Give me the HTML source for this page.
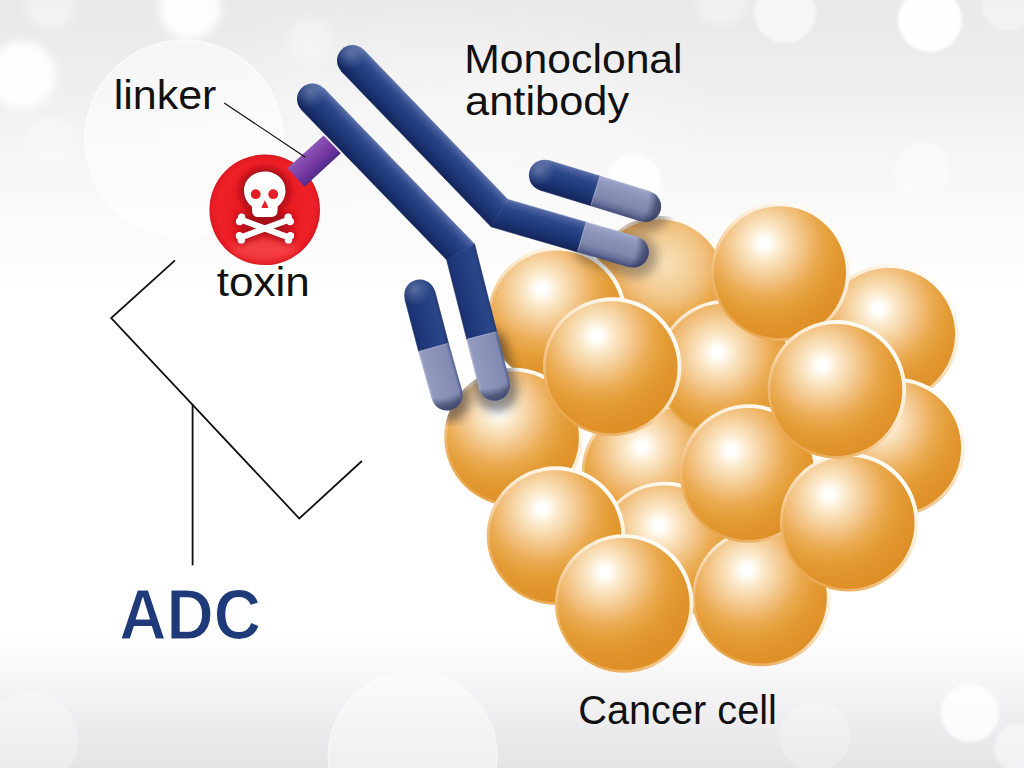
<!DOCTYPE html>
<html><head><meta charset="utf-8"><title>ADC</title>
<style>
html,body{margin:0;padding:0;background:#fff;}
body{width:1024px;height:768px;overflow:hidden;font-family:"Liberation Sans",sans-serif;}
svg{display:block}
text{font-family:"Liberation Sans",sans-serif;}
</style></head><body>
<svg width="1024" height="768" viewBox="0 0 1024 768">
<defs>
<linearGradient id="bg" gradientUnits="userSpaceOnUse" x1="0" y1="0" x2="0" y2="768">
<stop offset="0" stop-color="#e9e9e9"/><stop offset="0.052" stop-color="#ebebeb"/><stop offset="0.13" stop-color="#f0f0f0"/><stop offset="0.195" stop-color="#f5f5f5"/><stop offset="0.26" stop-color="#f9f9f9"/><stop offset="0.325" stop-color="#fcfcfc"/><stop offset="0.39" stop-color="#ffffff"/>
<stop offset="0.825" stop-color="#ffffff"/><stop offset="0.875" stop-color="#f8f8f9"/><stop offset="0.935" stop-color="#eeeef0"/><stop offset="1" stop-color="#e4e4e7"/>
</linearGradient>
<filter id="b5" x="-50%" y="-50%" width="200%" height="200%"><feGaussianBlur stdDeviation="5"/></filter>
<filter id="b4" x="-50%" y="-50%" width="200%" height="200%"><feGaussianBlur stdDeviation="4"/></filter>
<filter id="b8" x="-50%" y="-50%" width="200%" height="200%"><feGaussianBlur stdDeviation="8"/></filter>
<filter id="b2" x="-50%" y="-50%" width="200%" height="200%"><feGaussianBlur stdDeviation="1.5"/></filter>
<radialGradient id="sph" cx="0.39" cy="0.295" r="0.74">
<stop offset="0" stop-color="#ffffff"/><stop offset="0.045" stop-color="#ffffff"/><stop offset="0.09" stop-color="#fff8ec"/><stop offset="0.17" stop-color="#fbe9cb"/><stop offset="0.28" stop-color="#f7d7a8"/><stop offset="0.40" stop-color="#f2c283"/><stop offset="0.55" stop-color="#ebab52"/><stop offset="0.70" stop-color="#e49c36"/><stop offset="0.85" stop-color="#e0942b"/><stop offset="1" stop-color="#de8f26"/>
</radialGradient>

<radialGradient id="tox" cx="0.5" cy="0.5" r="0.5">
<stop offset="0" stop-color="#e61c24"/><stop offset="0.6" stop-color="#ea1c24"/><stop offset="0.85" stop-color="#ee2028"/><stop offset="0.95" stop-color="#e81c24"/><stop offset="1" stop-color="#d4181f"/>
</radialGradient>
<linearGradient id="lnk" gradientUnits="userSpaceOnUse" x1="305" y1="151.8" x2="322.5" y2="170.2">
<stop offset="0" stop-color="#8f58b8"/><stop offset="0.3" stop-color="#8246ac"/><stop offset="0.6" stop-color="#7438a0"/><stop offset="0.85" stop-color="#5f3094"/><stop offset="1" stop-color="#502a84"/>
</linearGradient>
<linearGradient id="rim" x1="0.8" y1="0.1" x2="0.2" y2="0.9">
<stop offset="0" stop-color="#fffdf8"/><stop offset="0.40" stop-color="#fce8cb"/><stop offset="0.72" stop-color="#f2c285"/><stop offset="1" stop-color="#e9a84f"/>
</linearGradient>
<radialGradient id="cl" cx="0.5" cy="0.5" r="0.5"><stop offset="0" stop-color="#fff" stop-opacity="0.45"/><stop offset="0.5" stop-color="#fff" stop-opacity="0.25"/><stop offset="1" stop-color="#fff" stop-opacity="0"/></radialGradient>
<clipPath id="toxclip"><circle cx="264.7" cy="209.8" r="55.3"/></clipPath>
<filter id="b3" x="-50%" y="-50%" width="200%" height="200%"><feGaussianBlur stdDeviation="3"/></filter>
<clipPath id="sphclip"><circle cx="660.0" cy="285.0" r="69.0"/><circle cx="889.7" cy="333.4" r="69.0"/><circle cx="895.7" cy="447.0" r="69.0"/><circle cx="651.0" cy="472.0" r="69.0"/><circle cx="726.0" cy="369.0" r="69.0"/><circle cx="665.0" cy="551.0" r="69.0"/><circle cx="557.4" cy="315.8" r="69.0"/><circle cx="513.5" cy="437.0" r="69.0"/><circle cx="612.2" cy="366.6" r="69.0"/><circle cx="780.6" cy="271.7" r="69.0"/><circle cx="556.0" cy="535.6" r="69.0"/><circle cx="761.5" cy="597.0" r="69.0"/><circle cx="749.0" cy="473.5" r="69.0"/><circle cx="849.2" cy="522.2" r="69.0"/><circle cx="836.9" cy="389.4" r="69.0"/><circle cx="624.2" cy="603.5" r="69.0"/></clipPath>
<linearGradient id="g1" gradientUnits="userSpaceOnUse" x1="548.93" y1="160.48" x2="539.87" y2="190.12"><stop offset="0" stop-color="#5d72aa"/><stop offset="0.1" stop-color="#465c9c"/><stop offset="0.28" stop-color="#2b4789"/><stop offset="0.55" stop-color="#203b7d"/><stop offset="0.8" stop-color="#192f6b"/><stop offset="1" stop-color="#13245a"/></linearGradient>
<linearGradient id="g2" gradientUnits="userSpaceOnUse" x1="599.97" y1="176.09" x2="590.83" y2="205.71"><stop offset="0" stop-color="#a4accd"/><stop offset="0.1" stop-color="#959dc2"/><stop offset="0.3" stop-color="#8b93b8"/><stop offset="0.66" stop-color="#7f87ad"/><stop offset="0.86" stop-color="#636c96"/><stop offset="1" stop-color="#444e7c"/></linearGradient>
<radialGradient id="c3" gradientUnits="userSpaceOnUse" cx="538.87" cy="169.55" r="16.28"><stop offset="0" stop-color="#fff" stop-opacity="0.26"/><stop offset="0.5" stop-color="#fff" stop-opacity="0.12"/><stop offset="1" stop-color="#fff" stop-opacity="0"/></radialGradient>
<radialGradient id="c4" gradientUnits="userSpaceOnUse" cx="615.97" cy="197.29" r="46.50"><stop offset="0.69" stop-color="#1c2248" stop-opacity="0"/><stop offset="0.742" stop-color="#1c2248" stop-opacity="0.10"/><stop offset="0.806" stop-color="#1c2248" stop-opacity="0.30"/><stop offset="0.871" stop-color="#1c2248" stop-opacity="0.50"/><stop offset="0.935" stop-color="#1c2248" stop-opacity="0.60"/><stop offset="1" stop-color="#1c2248" stop-opacity="0.66"/></radialGradient>
<linearGradient id="g5" gradientUnits="userSpaceOnUse" x1="363.66" y1="49.85" x2="341.34" y2="71.35"><stop offset="0" stop-color="#5d72aa"/><stop offset="0.1" stop-color="#465c9c"/><stop offset="0.28" stop-color="#2b4789"/><stop offset="0.55" stop-color="#203b7d"/><stop offset="0.8" stop-color="#192f6b"/><stop offset="1" stop-color="#13245a"/></linearGradient>
<linearGradient id="g6" gradientUnits="userSpaceOnUse" x1="503.72" y1="198.21" x2="495.08" y2="227.99"><stop offset="0" stop-color="#5d72aa"/><stop offset="0.1" stop-color="#465c9c"/><stop offset="0.28" stop-color="#2b4789"/><stop offset="0.55" stop-color="#203b7d"/><stop offset="0.8" stop-color="#192f6b"/><stop offset="1" stop-color="#13245a"/></linearGradient>
<linearGradient id="g7" gradientUnits="userSpaceOnUse" x1="586.22" y1="222.16" x2="577.57" y2="251.93"><stop offset="0" stop-color="#a4accd"/><stop offset="0.1" stop-color="#959dc2"/><stop offset="0.3" stop-color="#8b93b8"/><stop offset="0.66" stop-color="#7f87ad"/><stop offset="0.86" stop-color="#636c96"/><stop offset="1" stop-color="#444e7c"/></linearGradient>
<radialGradient id="c8" gradientUnits="userSpaceOnUse" cx="350.45" cy="52.89" r="16.28"><stop offset="0" stop-color="#fff" stop-opacity="0.26"/><stop offset="0.5" stop-color="#fff" stop-opacity="0.12"/><stop offset="1" stop-color="#fff" stop-opacity="0"/></radialGradient>
<radialGradient id="c9" gradientUnits="userSpaceOnUse" cx="603.63" cy="243.36" r="46.50"><stop offset="0.69" stop-color="#1c2248" stop-opacity="0"/><stop offset="0.742" stop-color="#1c2248" stop-opacity="0.10"/><stop offset="0.806" stop-color="#1c2248" stop-opacity="0.30"/><stop offset="0.871" stop-color="#1c2248" stop-opacity="0.50"/><stop offset="0.935" stop-color="#1c2248" stop-opacity="0.60"/><stop offset="1" stop-color="#1c2248" stop-opacity="0.66"/></radialGradient>
<linearGradient id="g10" gradientUnits="userSpaceOnUse" x1="404.81" y1="298.94" x2="434.79" y2="291.06"><stop offset="0" stop-color="#192d6a"/><stop offset="0.1" stop-color="#1d3474"/><stop offset="0.5" stop-color="#233e81"/><stop offset="0.85" stop-color="#2a4688"/><stop offset="0.95" stop-color="#27417f"/><stop offset="1" stop-color="#1d3370"/></linearGradient>
<linearGradient id="g11" gradientUnits="userSpaceOnUse" x1="418.68" y1="351.71" x2="448.52" y2="343.29"><stop offset="0" stop-color="#a3abcc"/><stop offset="0.08" stop-color="#9199be"/><stop offset="0.5" stop-color="#8a92b8"/><stop offset="0.9" stop-color="#828ab1"/><stop offset="1" stop-color="#4f5f98"/></linearGradient>
<radialGradient id="c12" gradientUnits="userSpaceOnUse" cx="414.23" cy="289.29" r="16.28"><stop offset="0" stop-color="#fff" stop-opacity="0.26"/><stop offset="0.5" stop-color="#fff" stop-opacity="0.12"/><stop offset="1" stop-color="#fff" stop-opacity="0"/></radialGradient>
<radialGradient id="c13" gradientUnits="userSpaceOnUse" cx="438.86" cy="365.09" r="46.50"><stop offset="0.69" stop-color="#1c2248" stop-opacity="0"/><stop offset="0.742" stop-color="#1c2248" stop-opacity="0.10"/><stop offset="0.806" stop-color="#1c2248" stop-opacity="0.30"/><stop offset="0.871" stop-color="#1c2248" stop-opacity="0.50"/><stop offset="0.935" stop-color="#1c2248" stop-opacity="0.60"/><stop offset="1" stop-color="#1c2248" stop-opacity="0.66"/></radialGradient>
<linearGradient id="g14" gradientUnits="userSpaceOnUse" x1="323.64" y1="88.12" x2="301.36" y2="109.68"><stop offset="0" stop-color="#5d72aa"/><stop offset="0.1" stop-color="#465c9c"/><stop offset="0.28" stop-color="#2b4789"/><stop offset="0.55" stop-color="#203b7d"/><stop offset="0.8" stop-color="#192f6b"/><stop offset="1" stop-color="#13245a"/></linearGradient>
<linearGradient id="g15" gradientUnits="userSpaceOnUse" x1="445.58" y1="255.71" x2="475.62" y2="248.09"><stop offset="0" stop-color="#192d6a"/><stop offset="0.1" stop-color="#1d3474"/><stop offset="0.5" stop-color="#233e81"/><stop offset="0.85" stop-color="#2a4688"/><stop offset="0.95" stop-color="#27417f"/><stop offset="1" stop-color="#1d3370"/></linearGradient>
<linearGradient id="g16" gradientUnits="userSpaceOnUse" x1="466.79" y1="339.36" x2="496.83" y2="331.74"><stop offset="0" stop-color="#a3abcc"/><stop offset="0.08" stop-color="#9199be"/><stop offset="0.5" stop-color="#8a92b8"/><stop offset="0.9" stop-color="#828ab1"/><stop offset="1" stop-color="#4f5f98"/></linearGradient>
<radialGradient id="c17" gradientUnits="userSpaceOnUse" cx="310.43" cy="91.19" r="16.28"><stop offset="0" stop-color="#fff" stop-opacity="0.26"/><stop offset="0.5" stop-color="#fff" stop-opacity="0.12"/><stop offset="1" stop-color="#fff" stop-opacity="0"/></radialGradient>
<radialGradient id="c18" gradientUnits="userSpaceOnUse" cx="486.88" cy="355.55" r="46.50"><stop offset="0.69" stop-color="#1c2248" stop-opacity="0"/><stop offset="0.742" stop-color="#1c2248" stop-opacity="0.10"/><stop offset="0.806" stop-color="#1c2248" stop-opacity="0.30"/><stop offset="0.871" stop-color="#1c2248" stop-opacity="0.50"/><stop offset="0.935" stop-color="#1c2248" stop-opacity="0.60"/><stop offset="1" stop-color="#1c2248" stop-opacity="0.66"/></radialGradient>
<radialGradient id="sphC" cx="0.545" cy="0.333" r="0.74"><stop offset="0" stop-color="#f6dfb6"/><stop offset="0.12" stop-color="#f5d9aa"/><stop offset="0.28" stop-color="#f3cd94"/><stop offset="0.40" stop-color="#f0c07e"/><stop offset="0.55" stop-color="#ebab52"/><stop offset="0.70" stop-color="#e49c36"/><stop offset="0.85" stop-color="#e0942b"/><stop offset="1" stop-color="#de8f26"/></radialGradient>
<radialGradient id="sphE" cx="0.419" cy="0.308" r="0.74"><stop offset="0" stop-color="#ffffff"/><stop offset="0.045" stop-color="#ffffff"/><stop offset="0.09" stop-color="#fff8ec"/><stop offset="0.17" stop-color="#fbe9cb"/><stop offset="0.28" stop-color="#f7d7a8"/><stop offset="0.40" stop-color="#f2c283"/><stop offset="0.55" stop-color="#ebab52"/><stop offset="0.70" stop-color="#e49c36"/><stop offset="0.85" stop-color="#e0942b"/><stop offset="1" stop-color="#de8f26"/></radialGradient>
<radialGradient id="sphJ" cx="0.436" cy="0.305" r="0.74"><stop offset="0" stop-color="#ffffff"/><stop offset="0.045" stop-color="#ffffff"/><stop offset="0.09" stop-color="#fff8ec"/><stop offset="0.17" stop-color="#fbe9cb"/><stop offset="0.28" stop-color="#f7d7a8"/><stop offset="0.40" stop-color="#f2c283"/><stop offset="0.55" stop-color="#ebab52"/><stop offset="0.70" stop-color="#e49c36"/><stop offset="0.85" stop-color="#e0942b"/><stop offset="1" stop-color="#de8f26"/></radialGradient>
<radialGradient id="sphF" cx="0.440" cy="0.370" r="0.74"><stop offset="0" stop-color="#ffffff"/><stop offset="0.045" stop-color="#ffffff"/><stop offset="0.09" stop-color="#fff8ec"/><stop offset="0.17" stop-color="#fbe9cb"/><stop offset="0.28" stop-color="#f7d7a8"/><stop offset="0.40" stop-color="#f2c283"/><stop offset="0.55" stop-color="#ebab52"/><stop offset="0.70" stop-color="#e49c36"/><stop offset="0.85" stop-color="#e0942b"/><stop offset="1" stop-color="#de8f26"/></radialGradient>
<radialGradient id="sphM" cx="0.460" cy="0.303" r="0.74"><stop offset="0" stop-color="#ffffff"/><stop offset="0.045" stop-color="#ffffff"/><stop offset="0.09" stop-color="#fff8ec"/><stop offset="0.17" stop-color="#fbe9cb"/><stop offset="0.28" stop-color="#f7d7a8"/><stop offset="0.40" stop-color="#f2c283"/><stop offset="0.55" stop-color="#ebab52"/><stop offset="0.70" stop-color="#e49c36"/><stop offset="0.85" stop-color="#e0942b"/><stop offset="1" stop-color="#de8f26"/></radialGradient>
<radialGradient id="sphA" cx="0.387" cy="0.292" r="0.74"><stop offset="0" stop-color="#ffffff"/><stop offset="0.045" stop-color="#ffffff"/><stop offset="0.09" stop-color="#fff8ec"/><stop offset="0.17" stop-color="#fbe9cb"/><stop offset="0.28" stop-color="#f7d7a8"/><stop offset="0.40" stop-color="#f2c283"/><stop offset="0.55" stop-color="#ebab52"/><stop offset="0.70" stop-color="#e49c36"/><stop offset="0.85" stop-color="#e0942b"/><stop offset="1" stop-color="#de8f26"/></radialGradient>
<radialGradient id="sphB" cx="0.386" cy="0.263" r="0.74"><stop offset="0" stop-color="#ffffff"/><stop offset="0.045" stop-color="#ffffff"/><stop offset="0.09" stop-color="#fff8ec"/><stop offset="0.17" stop-color="#fbe9cb"/><stop offset="0.28" stop-color="#f7d7a8"/><stop offset="0.40" stop-color="#f2c283"/><stop offset="0.55" stop-color="#ebab52"/><stop offset="0.70" stop-color="#e49c36"/><stop offset="0.85" stop-color="#e0942b"/><stop offset="1" stop-color="#de8f26"/></radialGradient>
<radialGradient id="sphD" cx="0.382" cy="0.279" r="0.74"><stop offset="0" stop-color="#ffffff"/><stop offset="0.045" stop-color="#ffffff"/><stop offset="0.09" stop-color="#fff8ec"/><stop offset="0.17" stop-color="#fbe9cb"/><stop offset="0.28" stop-color="#f7d7a8"/><stop offset="0.40" stop-color="#f2c283"/><stop offset="0.55" stop-color="#ebab52"/><stop offset="0.70" stop-color="#e49c36"/><stop offset="0.85" stop-color="#e0942b"/><stop offset="1" stop-color="#de8f26"/></radialGradient>
<radialGradient id="sphL" cx="0.398" cy="0.289" r="0.74"><stop offset="0" stop-color="#ffffff"/><stop offset="0.045" stop-color="#ffffff"/><stop offset="0.09" stop-color="#fff8ec"/><stop offset="0.17" stop-color="#fbe9cb"/><stop offset="0.28" stop-color="#f7d7a8"/><stop offset="0.40" stop-color="#f2c283"/><stop offset="0.55" stop-color="#ebab52"/><stop offset="0.70" stop-color="#e49c36"/><stop offset="0.85" stop-color="#e0942b"/><stop offset="1" stop-color="#de8f26"/></radialGradient>
<radialGradient id="sphO" cx="0.394" cy="0.290" r="0.74"><stop offset="0" stop-color="#ffffff"/><stop offset="0.045" stop-color="#ffffff"/><stop offset="0.09" stop-color="#fff8ec"/><stop offset="0.17" stop-color="#fbe9cb"/><stop offset="0.28" stop-color="#f7d7a8"/><stop offset="0.40" stop-color="#f2c283"/><stop offset="0.55" stop-color="#ebab52"/><stop offset="0.70" stop-color="#e49c36"/><stop offset="0.85" stop-color="#e0942b"/><stop offset="1" stop-color="#de8f26"/></radialGradient>
<radialGradient id="sphK" cx="0.371" cy="0.322" r="0.74"><stop offset="0" stop-color="#ffffff"/><stop offset="0.045" stop-color="#ffffff"/><stop offset="0.09" stop-color="#fff8ec"/><stop offset="0.17" stop-color="#fbe9cb"/><stop offset="0.28" stop-color="#f7d7a8"/><stop offset="0.40" stop-color="#f2c283"/><stop offset="0.55" stop-color="#ebab52"/><stop offset="0.70" stop-color="#e49c36"/><stop offset="0.85" stop-color="#e0942b"/><stop offset="1" stop-color="#de8f26"/></radialGradient>
<radialGradient id="sphP" cx="0.356" cy="0.284" r="0.74"><stop offset="0" stop-color="#ffffff"/><stop offset="0.045" stop-color="#ffffff"/><stop offset="0.09" stop-color="#fff8ec"/><stop offset="0.17" stop-color="#fbe9cb"/><stop offset="0.28" stop-color="#f7d7a8"/><stop offset="0.40" stop-color="#f2c283"/><stop offset="0.55" stop-color="#ebab52"/><stop offset="0.70" stop-color="#e49c36"/><stop offset="0.85" stop-color="#e0942b"/><stop offset="1" stop-color="#de8f26"/></radialGradient>
<radialGradient id="sphG" cx="0.393" cy="0.311" r="0.74"><stop offset="0" stop-color="#ffffff"/><stop offset="0.045" stop-color="#ffffff"/><stop offset="0.09" stop-color="#fff8ec"/><stop offset="0.17" stop-color="#fbe9cb"/><stop offset="0.28" stop-color="#f7d7a8"/><stop offset="0.40" stop-color="#f2c283"/><stop offset="0.55" stop-color="#ebab52"/><stop offset="0.70" stop-color="#e49c36"/><stop offset="0.85" stop-color="#e0942b"/><stop offset="1" stop-color="#de8f26"/></radialGradient>
<radialGradient id="sphN" cx="0.356" cy="0.258" r="0.74"><stop offset="0" stop-color="#ffffff"/><stop offset="0.045" stop-color="#ffffff"/><stop offset="0.09" stop-color="#fff8ec"/><stop offset="0.17" stop-color="#fbe9cb"/><stop offset="0.28" stop-color="#f7d7a8"/><stop offset="0.40" stop-color="#f2c283"/><stop offset="0.55" stop-color="#ebab52"/><stop offset="0.70" stop-color="#e49c36"/><stop offset="0.85" stop-color="#e0942b"/><stop offset="1" stop-color="#de8f26"/></radialGradient>
</defs>
<rect width="1024" height="768" fill="url(#bg)"/>
<!-- bokeh -->
<ellipse cx="430" cy="120" rx="300" ry="130" fill="url(#cl)"/>
<g id="bokeh">
<circle cx="184" cy="139" r="99.500" fill="#ffffff" opacity="0.55"/>
<circle cx="184" cy="139" r="99" fill="none" stroke="#ffffff" stroke-width="1.2" opacity="0.7"/>
<circle cx="22" cy="75" r="34" fill="#ffffff" opacity="0.95" filter="url(#b4)"/>
<circle cx="190" cy="8" r="31" fill="#ffffff" opacity="0.95" filter="url(#b4)"/>
<circle cx="50" cy="5" r="25" fill="#ffffff" opacity="0.4" filter="url(#b4)"/>
<circle cx="310" cy="40" r="22" fill="#ffffff" opacity="0.35" filter="url(#b4)"/>
<circle cx="50" cy="142" r="25" fill="#ffffff" opacity="0.35" filter="url(#b4)"/>
<circle cx="930" cy="20" r="32" fill="#ffffff" opacity="0.97" filter="url(#b2)"/>
<circle cx="785" cy="12" r="31" fill="#ffffff" opacity="0.6" filter="url(#b2)"/>
<circle cx="722" cy="0" r="26" fill="#ffffff" opacity="0.35" filter="url(#b4)"/>
<circle cx="1008" cy="5" r="26" fill="#ffffff" opacity="0.4" filter="url(#b2)"/>
<circle cx="634" cy="181" r="27" fill="#ffffff" opacity="0.9" filter="url(#b2)"/>
<circle cx="922" cy="170" r="28" fill="#ffffff" opacity="0.4" filter="url(#b2)"/>
<circle cx="412.6" cy="756" r="85" fill="#ffffff" opacity="0.42"/><circle cx="412.6" cy="756" r="84.5" fill="none" stroke="#fff" stroke-width="1" opacity="0.5"/>
<circle cx="970" cy="713" r="29" fill="#ffffff" opacity="0.85" filter="url(#b2)"/>
<circle cx="1018" cy="748" r="24" fill="#ffffff" opacity="0.5" filter="url(#b2)"/>
<circle cx="815" cy="736" r="35" fill="#ffffff" opacity="0.25"/>
<circle cx="30" cy="740" r="48" fill="#ffffff" opacity="0.3"/>
</g>
<!-- spheres -->
<g transform="translate(660.0,285.0)"><circle r="69.3" fill="url(#rim)"/><circle cx="-0.6" cy="0.6" r="66.0" fill="url(#sphC)"/></g>
<g transform="translate(889.7,333.4)"><circle r="69.3" fill="url(#rim)"/><circle cx="-0.6" cy="0.6" r="66.0" fill="url(#sphE)"/></g>
<g transform="translate(895.7,447.0)"><circle r="69.3" fill="url(#rim)"/><circle cx="-0.6" cy="0.6" r="66.0" fill="url(#sph)"/></g>
<g transform="translate(651.0,472.0)"><circle r="69.3" fill="url(#rim)"/><circle cx="-0.6" cy="0.6" r="66.0" fill="url(#sphJ)"/></g>
<g transform="translate(726.0,369.0)"><circle r="69.3" fill="url(#rim)"/><circle cx="-0.6" cy="0.6" r="66.0" fill="url(#sphF)"/></g>
<g transform="translate(665.0,551.0)"><circle r="69.3" fill="url(#rim)"/><circle cx="-0.6" cy="0.6" r="66.0" fill="url(#sphM)"/></g>
<g transform="translate(557.4,315.8)"><circle r="69.3" fill="url(#rim)"/><circle cx="-0.6" cy="0.6" r="66.0" fill="url(#sphA)"/></g>
<g transform="translate(513.5,437.0)"><circle r="69.3" fill="url(#rim)"/><circle cx="-0.6" cy="0.6" r="66.0" fill="url(#sph)"/></g>
<g transform="translate(612.2,366.6)"><circle r="69.3" fill="url(#rim)"/><circle cx="-0.6" cy="0.6" r="66.0" fill="url(#sphB)"/></g>
<g transform="translate(780.6,271.7)"><circle r="69.3" fill="url(#rim)"/><circle cx="-0.6" cy="0.6" r="66.0" fill="url(#sphD)"/></g>
<g transform="translate(556.0,535.6)"><circle r="69.3" fill="url(#rim)"/><circle cx="-0.6" cy="0.6" r="66.0" fill="url(#sphL)"/></g>
<g transform="translate(761.5,597.0)"><circle r="69.3" fill="url(#rim)"/><circle cx="-0.6" cy="0.6" r="66.0" fill="url(#sphO)"/></g>
<g transform="translate(749.0,473.5)"><circle r="69.3" fill="url(#rim)"/><circle cx="-0.6" cy="0.6" r="66.0" fill="url(#sphK)"/></g>
<g transform="translate(849.2,522.2)"><circle r="69.3" fill="url(#rim)"/><circle cx="-0.6" cy="0.6" r="66.0" fill="url(#sphP)"/></g>
<g transform="translate(836.9,389.4)"><circle r="69.3" fill="url(#rim)"/><circle cx="-0.6" cy="0.6" r="66.0" fill="url(#sphG)"/></g>
<g transform="translate(624.2,603.5)"><circle r="69.3" fill="url(#rim)"/><circle cx="-0.6" cy="0.6" r="66.0" fill="url(#sphN)"/></g>

<!-- shadows of antibody tips -->
<g clip-path="url(#sphclip)"><g filter="url(#b5)" opacity="0.5" stroke="#262633" stroke-width="43" stroke-linecap="round"><line x1="485.9" y1="349.0" x2="496.5" y2="390.6"/><line x1="438.0" y1="361.0" x2="449.0" y2="400.0"/></g><g filter="url(#b5)" opacity="0.34" stroke="#262633" stroke-width="43" stroke-linecap="round"><line x1="593.6" y1="243.6" x2="636.4" y2="256.0"/><line x1="603.0" y1="196.3" x2="648.6" y2="210.4"/></g></g>
<!-- toxin -->
<circle cx="264.7" cy="209.8" r="55.3" fill="url(#tox)"/>
<g clip-path="url(#toxclip)">
<ellipse cx="264.7" cy="248" rx="33" ry="12" fill="#ff7a78" opacity="0.36" filter="url(#b4)"/>
<g fill="#9e0c14" stroke="#9e0c14" opacity="0.9" filter="url(#b3)"><g stroke-width="8"><path d="M264.8,171.6C253.2,171.6 244,179.800 244,190.5C244,197.200 247,202.800 251.8,206.300L252.200,211.800C252.500,215 254.600,216.900 257.800,216.900L271.800,216.900C275,216.900 277.100,215 277.400,211.800L277.800,206.300C282.600,202.800 285.500,197.200 285.500,190.5C285.500,179.800 276.400,171.600 264.800,171.600Z"/></g><g stroke-width="11" stroke-linecap="round"><line x1="241.5" y1="219.9" x2="288.6" y2="237.300"/><line x1="288.300" y1="219.900" x2="241.200" y2="237.300"/></g>
<circle cx="241.6" cy="217.3" r="3.7"/><circle cx="239.6" cy="221.5" r="3.7"/>
<circle cx="288.2" cy="217.3" r="3.7"/><circle cx="290.2" cy="221.5" r="3.7"/>
<circle cx="239.4" cy="235.8" r="3.7"/><circle cx="241.3" cy="239.900" r="3.7"/>
<circle cx="290.4" cy="235.8" r="3.7"/><circle cx="288.5" cy="239.900" r="3.7"/></g>
</g>
<g fill="#ffffff" stroke="#ffffff"><g stroke="none"><path d="M264.8,171.6C253.2,171.6 244,179.800 244,190.5C244,197.200 247,202.800 251.8,206.300L252.200,211.800C252.500,215 254.600,216.900 257.800,216.900L271.800,216.900C275,216.900 277.100,215 277.400,211.800L277.800,206.300C282.600,202.800 285.500,197.200 285.500,190.5C285.500,179.800 276.400,171.600 264.800,171.600Z"/></g><g stroke-width="6.1" stroke-linecap="round"><line x1="241.5" y1="219.9" x2="288.6" y2="237.300"/><line x1="288.300" y1="219.900" x2="241.200" y2="237.300"/></g>
<circle stroke="none" cx="241.6" cy="217.3" r="3.7"/><circle stroke="none" cx="239.6" cy="221.5" r="3.7"/>
<circle stroke="none" cx="288.2" cy="217.3" r="3.7"/><circle stroke="none" cx="290.2" cy="221.5" r="3.7"/>
<circle stroke="none" cx="239.4" cy="235.8" r="3.7"/><circle stroke="none" cx="241.3" cy="239.900" r="3.7"/>
<circle stroke="none" cx="290.4" cy="235.8" r="3.7"/><circle stroke="none" cx="288.5" cy="239.900" r="3.7"/></g>
<circle cx="255.7" cy="194.2" r="4.9" fill="#e31e26"/><circle cx="273.2" cy="194.2" r="4.9" fill="#e31e26"/>
<path d="M264.9,200.2L268.3,207.2Q268.5,207.9 267.700,207.9L262.100,207.9Q261.300,207.900 261.500,207.200Z" fill="#e31e26"/>
<!-- linker -->
<polygon points="287.5,168.1 323.6,135.4 340.8,153.3 304.4,186.7" fill="url(#lnk)"/>
<!-- antibody -->
<polygon points="548.93,160.48 599.93,176.08 590.87,205.72 539.87,190.12" fill="url(#g1)" stroke="url(#g1)" stroke-width="0.6"/><circle cx="544.40" cy="175.30" r="15.50" fill="url(#g1)"/><polygon points="599.97,176.09 650.17,191.59 641.03,221.21 590.83,205.71" fill="url(#g2)" stroke="url(#g2)" stroke-width="0.6"/><circle cx="645.60" cy="206.40" r="15.50" fill="url(#g2)"/><line x1="590.99" y1="205.24" x2="599.81" y2="176.56" stroke="#b9c0dc" stroke-width="0.8" opacity="0.6"/><circle cx="544.40" cy="175.30" r="15.50" fill="url(#c3)"/><path d="M650.15,191.58 A15.50,15.50 0 0 1 641.05,221.22 Z" fill="url(#c4)"/><polygon points="363.66,49.85 507.69,199.37 491.11,226.83 341.34,71.35" fill="url(#g5)" stroke="url(#g5)" stroke-width="0.6"/><circle cx="352.50" cy="60.60" r="15.50" fill="url(#g5)"/><polygon points="507.69,199.37 586.22,222.16 577.57,251.93 491.11,226.83" fill="url(#g6)" stroke="url(#g6)" stroke-width="0.6"/><polygon points="586.22,222.16 637.72,237.11 629.08,266.89 577.57,251.93" fill="url(#g7)" stroke="url(#g7)" stroke-width="0.6"/><circle cx="633.40" cy="252.00" r="15.50" fill="url(#g7)"/><line x1="577.71" y1="251.45" x2="586.08" y2="222.64" stroke="#b9c0dc" stroke-width="0.8" opacity="0.6"/><circle cx="352.50" cy="60.60" r="15.50" fill="url(#c8)"/><path d="M637.72,237.11 A15.50,15.50 0 0 1 629.08,266.89 Z" fill="url(#c9)"/><polygon points="434.79,291.06 448.59,343.56 418.61,351.44 404.81,298.94" fill="url(#g10)" stroke="url(#g10)" stroke-width="0.6"/><circle cx="419.80" cy="295.00" r="15.50" fill="url(#g10)"/><polygon points="448.52,343.29 461.92,390.79 432.08,399.21 418.68,351.71" fill="url(#g11)" stroke="url(#g11)" stroke-width="0.6"/><circle cx="447.00" cy="395.00" r="15.50" fill="url(#g11)"/><line x1="419.13" y1="351.44" x2="448.07" y2="343.56" stroke="#b9c0dc" stroke-width="0.8" opacity="0.6"/><circle cx="419.80" cy="295.00" r="15.50" fill="url(#c12)"/><path d="M461.96,390.93 A15.50,15.50 0 0 1 432.04,399.07 Z" fill="url(#c13)"/><polygon points="323.64,88.12 474.61,244.09 446.59,259.71 301.36,109.68" fill="url(#g14)" stroke="url(#g14)" stroke-width="0.6"/><circle cx="312.50" cy="98.90" r="15.50" fill="url(#g14)"/><polygon points="474.61,244.09 496.83,331.74 466.79,339.36 446.59,259.71" fill="url(#g15)" stroke="url(#g15)" stroke-width="0.6"/><polygon points="496.83,331.74 509.52,381.79 479.48,389.41 466.79,339.36" fill="url(#g16)" stroke="url(#g16)" stroke-width="0.6"/><circle cx="494.50" cy="385.60" r="15.50" fill="url(#g16)"/><line x1="467.27" y1="339.24" x2="496.35" y2="331.87" stroke="#b9c0dc" stroke-width="0.8" opacity="0.6"/><circle cx="312.50" cy="98.90" r="15.50" fill="url(#c17)"/><path d="M509.52,381.79 A15.50,15.50 0 0 1 479.48,389.41 Z" fill="url(#c18)"/>
<!-- labels -->
<g fill="#111111" font-size="40">
<text x="113.7" y="108.8" textLength="102.7" lengthAdjust="spacingAndGlyphs">linker</text>
<text x="216.7" y="295.5" textLength="93.2" lengthAdjust="spacingAndGlyphs">toxin</text>
<text x="464.3" y="72.5" textLength="218.3" lengthAdjust="spacingAndGlyphs">Monoclonal</text>
<text x="465.1" y="114.5" textLength="164" lengthAdjust="spacingAndGlyphs">antibody</text>
<text x="578.2" y="723.8" textLength="198.7" lengthAdjust="spacingAndGlyphs">Cancer cell</text>
</g>
<text x="119.3" y="639.2" font-size="71" font-weight="bold" fill="#1f3a78" stroke="#ffffff" stroke-width="1.2" stroke-linejoin="round" textLength="141.6" lengthAdjust="spacingAndGlyphs">ADC</text>
<g stroke="#111111" fill="none">
<line x1="224.2" y1="103" x2="305.4" y2="157.200" stroke-width="1.2"/>
<polyline points="175,260.3 111.2,318.1 299.3,518.5 361.9,461" stroke-width="1.8"/>
<line x1="192.6" y1="404.500" x2="192.6" y2="565.3" stroke-width="1.8"/>
</g>
</svg>
</body></html>
